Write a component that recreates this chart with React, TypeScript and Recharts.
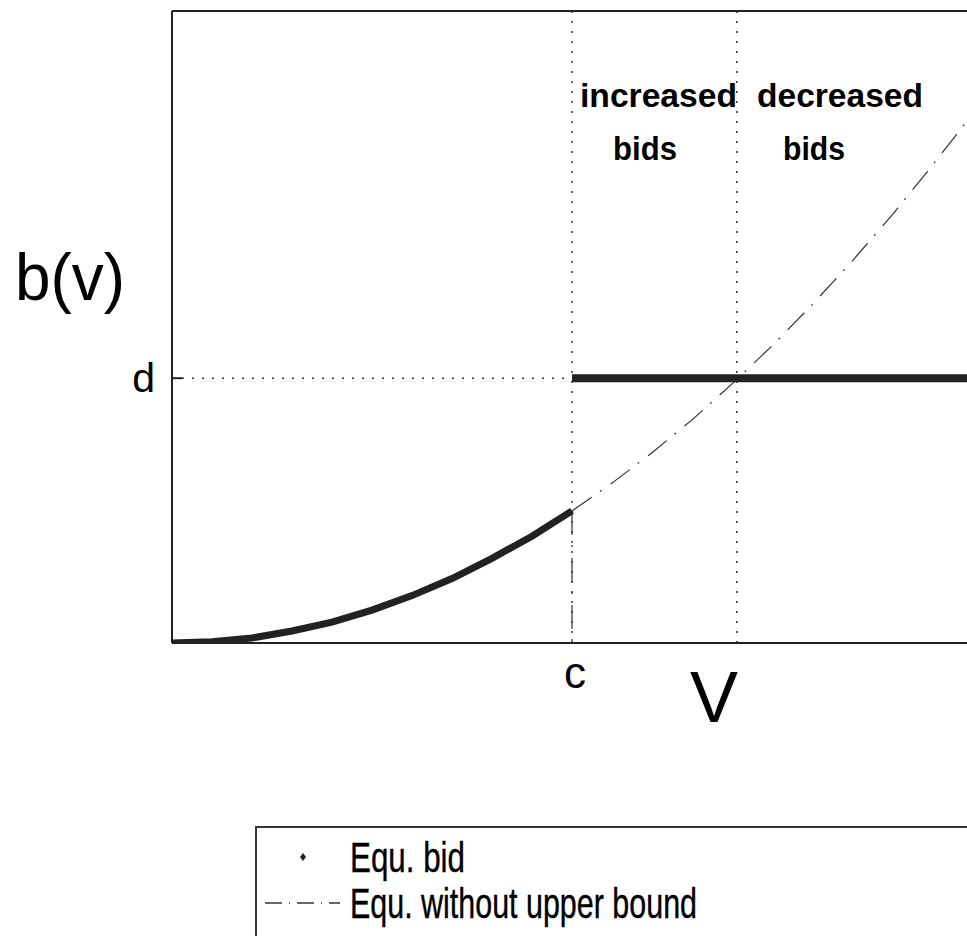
import { ComposedChart, Legend, Line, ReferenceLine, XAxis, YAxis } from "recharts";

// values (v and b(v) both on a 0..1 scale)
const vLow = [0, 0.05, 0.1, 0.15, 0.2, 0.25, 0.3, 0.35, 0.4, 0.45, 0.5];
const bidLow = [0, 0.002, 0.008, 0.019, 0.033, 0.052, 0.075, 0.102, 0.134, 0.169, 0.209];
const vHigh = [0.5, 0.55, 0.6, 0.65, 0.7, 0.75, 0.8, 0.85, 0.9, 0.95, 1];
const bidNoBound = [0.209, 0.253, 0.301, 0.353, 0.41, 0.47, 0.535, 0.604, 0.677, 0.755, 0.836];
const bidCapped = [0.419, 0.419, 0.419, 0.419, 0.419, 0.419, 0.419, 0.419, 0.419, 0.419, 0.419];

const cValue = 0.5;
const vValue = 0.706;
const dValue = 0.419;

const seriesNames = ["Equ. bid", "Equ. without upper bound"];

const lowRows = vLow.map((v, i) => ({ v, b: bidLow[i] }));
const noBoundRows = vHigh.map((v, i) => ({ v, b: bidNoBound[i] }));
const cappedRows = vHigh.map((v, i) => ({ v, b: bidCapped[i] }));

const FONT = "'Liberation Sans', Arial, sans-serif";
const DASH_DOT = "24 10 2 11";
const DOTTED = "2 8";

function XTick({ x, y }: any) {
  return (
    <text x={x + 3} y={y + 45} textAnchor="middle" fontFamily={FONT} fontSize={44} fill="#000">
      c
    </text>
  );
}

function YTick({ x, y }: any) {
  return (
    <g>
      <line x1={x} x2={x + 10} y1={y} y2={y} stroke="#222" strokeWidth={2} />
      <text x={x - 17} y={y + 14} textAnchor="end" fontFamily={FONT} fontSize={41} fill="#000">
        d
      </text>
    </g>
  );
}

function LegendBox({ payload }: any) {
  const items = (payload || []).filter((p: any) => p.type !== "none");
  return (
    <svg width={760} height={140}>
      <rect x={1} y={1} width={800} height={200} fill="#fff" stroke="#333" strokeWidth={2} />
      {items.map((item: any, i: number) => {
        const rowY = 31 + i * 46;
        return (
          <g key={item.value}>
            {item.value === seriesNames[0] ? (
              <path d={`M48 ${rowY - 4} L51 ${rowY} L48 ${rowY + 4} L45 ${rowY} Z`} fill="#222" />
            ) : (
              <line x1={10} x2={85} y1={rowY} y2={rowY} stroke="#333" strokeWidth={1.5} strokeDasharray="17 7 1 7" />
            )}
            <text
              x={95}
              y={rowY + 15}
              fontFamily={FONT}
              fontSize={42}
              fill="#000"
              stroke="#000"
              strokeWidth={0.4}
              textLength={i === 0 ? 115 : 347}
              lengthAdjust="spacingAndGlyphs"
            >
              {item.value}
            </text>
          </g>
        );
      })}
    </svg>
  );
}

export default function App() {
  return (
    <div style={{ position: "absolute", left: 0, top: 0, width: 967, height: 936, overflow: "hidden", background: "#fff" }}>
      <ComposedChart width={1000} height={960} margin={{ top: 10, right: 28, bottom: 316, left: 171 }}>
        <XAxis
          dataKey="v"
          type="number"
          domain={[0, 1]}
          ticks={[cValue]}
          height={1}
          tickSize={0}
          tickMargin={0}
          tickLine={false}
          tick={<XTick />}
          axisLine={{ stroke: "#222", strokeWidth: 2 }}
          allowDataOverflow
        />
        <XAxis
          xAxisId="top"
          orientation="top"
          type="number"
          domain={[0, 1]}
          height={1}
          tick={false}
          tickLine={false}
          axisLine={{ stroke: "#222", strokeWidth: 2 }}
        />
        <YAxis
          type="number"
          domain={[0, 1]}
          ticks={[dValue]}
          width={1}
          tickSize={0}
          tickMargin={0}
          tickLine={false}
          tick={<YTick />}
          axisLine={{ stroke: "#222", strokeWidth: 2 }}
          allowDataOverflow
        />
        <ReferenceLine x={cValue} stroke="#333" strokeWidth={1.5} strokeDasharray={DOTTED} />
        <ReferenceLine x={vValue} stroke="#333" strokeWidth={1.5} strokeDasharray={DOTTED} />
        <ReferenceLine
          segment={[{ x: 0, y: dValue }, { x: cValue, y: dValue }]}
          stroke="#333"
          strokeWidth={1.5}
          strokeDasharray={DOTTED}
        />
        <ReferenceLine
          segment={[{ x: cValue, y: bidLow[bidLow.length - 1] }, { x: cValue, y: 0 }]}
          stroke="#333"
          strokeWidth={1.2}
          strokeDasharray={DASH_DOT}
        />
        <Line
          data={lowRows}
          dataKey="b"
          name={seriesNames[0]}
          type="linear"
          stroke="#222"
          strokeWidth={7}
          dot={false}
          isAnimationActive={false}
        />
        <Line
          data={noBoundRows}
          dataKey="b"
          name={seriesNames[1]}
          type="linear"
          stroke="#333"
          strokeWidth={1.2}
          strokeDasharray={DASH_DOT}
          dot={false}
          isAnimationActive={false}
        />
        <Line
          data={cappedRows}
          dataKey="b"
          name="capped"
          legendType="none"
          type="linear"
          stroke="#222"
          strokeWidth={8}
          dot={false}
          isAnimationActive={false}
        />
        <Legend
          layout="vertical"
          align="center"
          verticalAlign="middle"
          content={<LegendBox />}
          wrapperStyle={{ left: 255, top: 826, width: 760, height: 140 }}
        />
      </ComposedChart>
      <svg width={967} height={936} style={{ position: "absolute", left: 0, top: 0, pointerEvents: "none" }}>
        <text x={15} y={300} fontFamily={FONT} fontSize={66} textLength={110} lengthAdjust="spacingAndGlyphs">
          b(v)
        </text>
        <text x={714} y={722} textAnchor="middle" fontFamily={FONT} fontSize={72}>
          V
        </text>
        <g fontFamily={FONT} fontSize={34} fontWeight="bold">
          <text x={580} y={107} textLength={157} lengthAdjust="spacingAndGlyphs">increased</text>
          <text x={613} y={160} textLength={64} lengthAdjust="spacingAndGlyphs">bids</text>
          <text x={757} y={107} textLength={166} lengthAdjust="spacingAndGlyphs">decreased</text>
          <text x={783} y={160} textLength={62} lengthAdjust="spacingAndGlyphs">bids</text>
        </g>
      </svg>
    </div>
  );
}
